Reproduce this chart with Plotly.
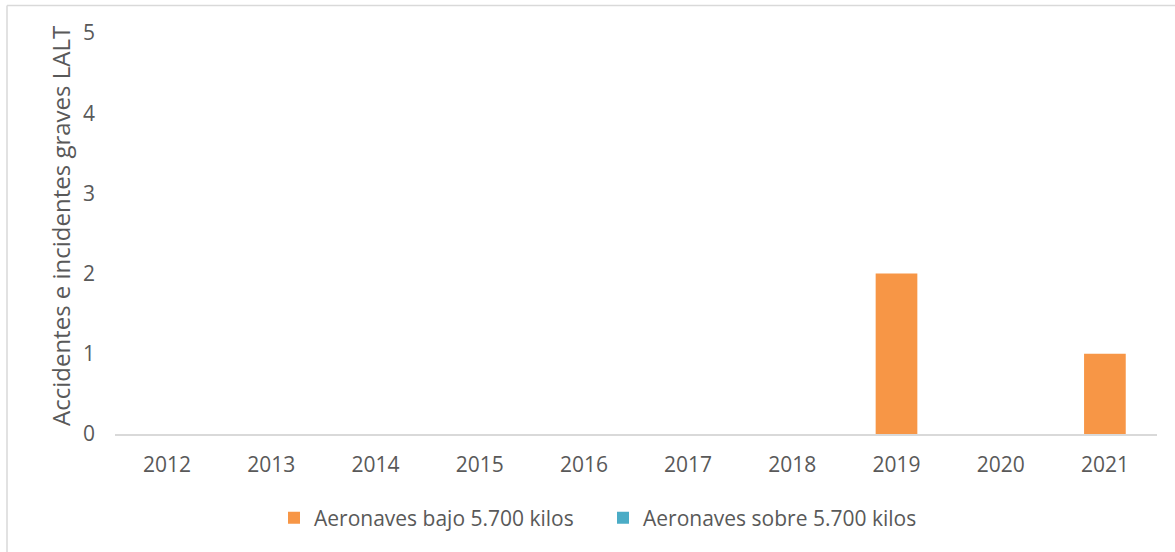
import plotly.graph_objects as go

# Annual counts of serious accidents and incidents (LALT)
years = ["2012", "2013", "2014", "2015", "2016", "2017", "2018", "2019", "2020", "2021"]
bajo_5700 = [0, 0, 0, 0, 0, 0, 0, 2, 0, 1]
sobre_5700 = [0, 0, 0, 0, 0, 0, 0, 0, 0, 0]

y_ticks = [0, 1, 2, 3, 4, 5]

FONT = "Open Sans"
TEXT_COLOR = "#595959"
GRID_COLOR = "#d9d9d9"

W, H = 1175, 552
L, R, T, B = 115, 18, 33, 118
plot_w = W - L - R
plot_h = H - T - B


def px_to_paper_x(px):
    return (px - L) / plot_w


def px_to_paper_y(py):
    return (H - B - py) / plot_h


fig = go.Figure()
fig.add_trace(go.Bar(
    x=years, y=bajo_5700, name="Aeronaves bajo 5.700 kilos",
    marker=dict(color="#F79646", line=dict(width=0)),
))
fig.add_trace(go.Bar(
    x=years, y=sobre_5700, name="Aeronaves sobre 5.700 kilos",
    marker=dict(color="#4BACC6", line=dict(width=0)),
))

fig.update_layout(
    width=W, height=H,
    margin=dict(l=L, r=R, t=T, b=B),
    paper_bgcolor="white", plot_bgcolor="white",
    barmode="overlay",
    bargap=0.6,
    font=dict(family=FONT, color=TEXT_COLOR, size=21),
    showlegend=True,
    legend=dict(
        orientation="h", x=px_to_paper_x(274), xanchor="left",
        y=px_to_paper_y(518), yanchor="middle",
        font=dict(size=21, color=TEXT_COLOR),
        itemwidth=30, itemsizing="constant",
        entrywidth=284, entrywidthmode="pixels",
        traceorder="normal",
    ),
    xaxis=dict(
        type="category", showgrid=False, showline=True,
        linecolor=GRID_COLOR, linewidth=1.5, ticks="",
        tickfont=dict(size=21, color=TEXT_COLOR),
        ticklabelstandoff=11,
    ),
    yaxis=dict(
        range=[0, 5], tickvals=y_ticks, showgrid=False, zeroline=False,
        showline=False, ticks="",
        tickfont=dict(size=21, color=TEXT_COLOR),
        ticklabelstandoff=19,
    ),
    annotations=[dict(
        text="Accidentes e incidentes graves LALT",
        xref="paper", yref="paper",
        x=px_to_paper_x(60), y=px_to_paper_y(226),
        xanchor="center", yanchor="middle",
        textangle=-90, showarrow=False,
        font=dict(size=24, color=TEXT_COLOR, family=FONT),
    )],
    shapes=[
        dict(type="line", xref="paper", yref="paper",
             x0=px_to_paper_x(7), x1=px_to_paper_x(W + 5),
             y0=px_to_paper_y(5.5), y1=px_to_paper_y(5.5),
             line=dict(color=GRID_COLOR, width=1.5)),
        dict(type="line", xref="paper", yref="paper",
             x0=px_to_paper_x(7), x1=px_to_paper_x(7),
             y0=px_to_paper_y(5.5), y1=px_to_paper_y(H + 5),
             line=dict(color=GRID_COLOR, width=1.5)),
    ],
)

fig.write_html("out.html")
